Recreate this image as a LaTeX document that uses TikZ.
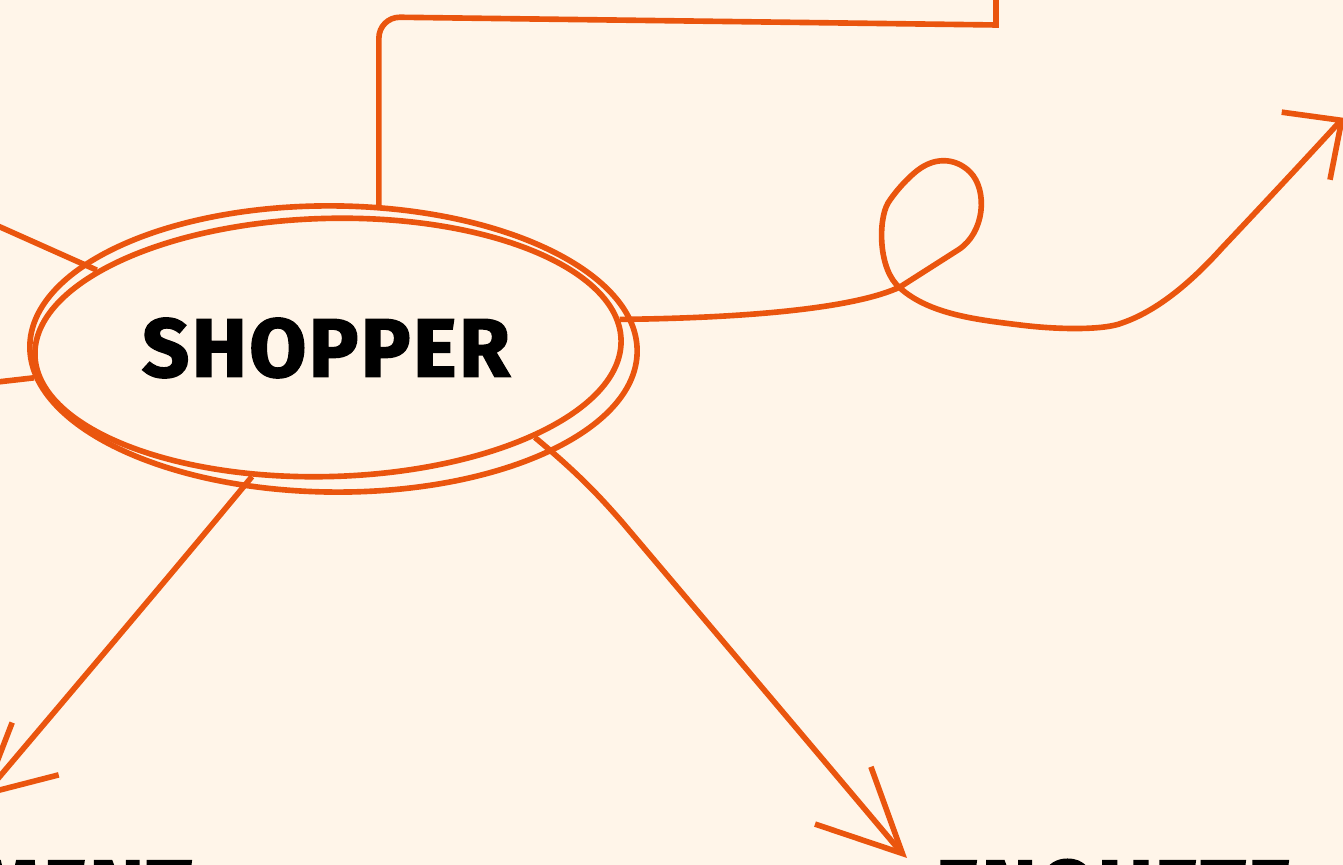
\documentclass[tikz,border=0pt]{standalone}
\usepackage{fontspec}
\setmainfont{Fira Sans}[BoldFeatures={FakeBold=2}]
\usepackage{tikz}
\usetikzlibrary{positioning, arrows.meta, shapes.geometric}
\definecolor{paper}{HTML}{FFF5E9}
\definecolor{rust}{HTML}{EA550E}

\begin{document}
\begin{tikzpicture}[
    x=0.01cm, y=-0.01cm,
    edge/.style={draw=rust, line width=1.6pt},
    ring/.style={ellipse, draw=rust, line width=1.6pt, inner sep=0pt},
    topic/.style={font=\fontsize{23.5}{28}\selectfont\bfseries\addfontfeature{LetterSpace=3}, inner sep=0pt},
  ]
  % ---- page ----
  \fill[paper] (0,0) rectangle (1343,865);
  \useasboundingbox (0,0) rectangle (1343,865);
  \clip (0,0) rectangle (1343,865);

  % ---- Shopper (double ring) ----
  \node[ring, rotate=-0.5, minimum width=6.07cm, minimum height=2.86cm] (shopperout) at (333.5,349) {};
  \node[ring, rotate=1.5, minimum width=5.86cm, minimum height=2.58cm] (shopperin) at (328,347.5) {};
  \node[topic] (shopper) at (326,348) {SHOPPER};

  % ---- topics cut by the page ----
  \node[topic, anchor=base east] (ment) at (192,918) {MENT};
  \node[topic, anchor=base west] (enquete) at (935,918) {ENQUETE};

  % ---- off-page ends ----
  \coordinate (upleft) at (-20,218);
  \coordinate (midleft) at (-20,384);
  \coordinate (topexit) at (996,-20);
  \coordinate (tipright) at (1345,118);
  \coordinate (tipleft) at (-20,798);
  \coordinate (tipdown) at (907,858);

  % ---- connectors ----
  \draw[edge] (upleft) -- (shopperin.160);
  \draw[edge] (midleft) -- (shopperout.186);
  \draw[edge] (shopperout.73.5) [rounded corners=6pt] -- (shopperout.73.5 |- 0,17) [sharp corners] -- (996,25) -- (topexit);
  \draw[edge, -{Straight Barb[length=4.4mm, width=8.3mm]}] (shopperin.4)
    .. controls (750,318) and (855,308) .. (900,287) -- (958,250)
    .. controls (985,233) and (988,190) .. (970,172)
    .. controls (958,160) and (938,155) .. (918,170)
    .. controls (905,180) and (893,195) .. (888,203)
    .. controls (878,220) and (878,270) .. (900,288)
    .. controls (930,315) and (980,320) .. (1020,325)
    .. controls (1060,330) and (1105,330) .. (1122,323)
    .. controls (1160,310) and (1195,278) .. (1222,248)
    .. controls (1290,176) and (1340.1,121.5) .. (tipright);
  \draw[edge, -{Straight Barb[length=8.3mm, width=8mm]}] (shopperin.-25)
    .. controls (580,475) and (600,497) .. (622,522)
    .. controls (760,685) and (902.7,853.8) .. (tipdown);
  \draw[edge, -{Straight Barb[length=6.8mm, width=7mm]}] (shopperin.238)
    .. controls (150,600) and (-15.5,794) .. (tipleft);
\end{tikzpicture}
\end{document}
